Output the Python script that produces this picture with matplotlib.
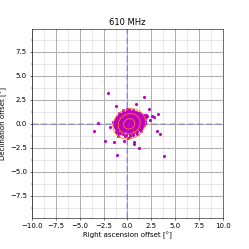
import matplotlib
matplotlib.use("Agg")
import matplotlib.pyplot as plt
from matplotlib.patches import Ellipse
from matplotlib.ticker import MultipleLocator

title = "610 MHz"

# outlying sources (degrees)
outlier_ra = [-2.02, 1.77, 0.87, -1.15, 2.26, -0.10, 3.16, 2.60, 2.75, 2.40,
              -3.07, -1.85, -3.48, 3.10, 3.37, -2.37, -1.40, -0.35, 0.68, 0.68,
              1.15, -1.10, 3.86, -1.00, 0.10, 1.95, 1.80, -1.55, 2.05, -0.95]
outlier_dec = [3.19, 2.77, 2.11, 1.87, 1.52, 1.60, 1.04, 0.78, 0.70, 0.45,
               0.14, -0.35, -0.70, -0.77, -1.05, -1.81, -1.87, -1.80, -1.84, -2.06,
               -2.50, -3.20, -3.30, -1.25, -1.50, 0.95, 0.60, 0.20, 0.85, -0.95]

# dense core of sources
core_ra = [-0.10, 0.32, 0.62,
           -0.62, -0.28, 0.02, 0.36, 0.71, 1.02,
           -0.92, -0.55, -0.18, 0.14, 0.52, 0.86, 1.16, 1.47,
           -1.06, -0.74, -0.41, -0.06, 0.31, 0.60, 0.96, 1.31, 1.62, 1.88,
           -1.22, -0.86, -0.52, -0.21, 0.12, 0.44, 0.77, 1.08, 1.42, 1.71,
           -1.31, -0.95, -0.61, -0.29, 0.01, 0.30, 0.62, 0.91, 1.24, 1.56, 1.84,
           -1.36, -1.01, -0.69, -0.36, -0.04, 0.26, 0.55, 0.86, 1.16, 1.49, 1.79,
           -1.41, -1.06, -0.76, -0.44, -0.11, 0.21, 0.51, 0.79, 1.12, 1.44, 1.69,
           -1.29, -0.99, -0.66, -0.34, -0.06, 0.24, 0.56, 0.89, 1.21, 1.51,
           -1.19, -0.84, -0.51, -0.19, 0.16, 0.46, 0.79, 1.11, 1.39,
           -0.99, -0.64, -0.31, 0.01, 0.34, 0.71, 1.01, 1.29,
           -0.79, -0.46, -0.09, 0.26, 0.61, 0.94,
           -0.51, -0.14, 0.21, 0.56,
           -0.21, 0.31,
           0.15, 0.55, 1.25, 1.55, 1.75, -0.45, -0.85, 0.95, 1.45, -1.15,
           0.12, 0.47, 0.83,
           -0.44, -0.11, 0.19, 0.53, 0.87, 1.21,
           -0.74, -0.39, -0.03, 0.33, 0.68, 1.01, 1.33, 1.61,
           -0.91, -0.58, -0.23, 0.14, 0.46, 0.79, 1.13, 1.46, 1.76,
           -1.04, -0.69, -0.37, -0.04, 0.29, 0.58, 0.93, 1.27, 1.58,
           -1.14, -0.78, -0.45, -0.13, 0.16, 0.46, 0.76, 1.04, 1.36, 1.67,
           -1.21, -0.86, -0.53, -0.21, 0.09, 0.39, 0.68, 0.99, 1.31, 1.61,
           -1.16, -0.82, -0.49, -0.19, 0.11, 0.41, 0.71, 1.04, 1.36,
           -1.07, -0.74, -0.39, -0.04, 0.29, 0.62, 0.94, 1.24,
           -0.89, -0.54, -0.19, 0.16, 0.51, 0.84, 1.14,
           -0.66, -0.31, 0.04, 0.39, 0.76,
           -0.36, 0.01, 0.41]
core_dec = [1.31, 1.27, 1.33,
            1.08, 1.12, 1.06, 1.13, 1.09, 1.04,
            0.91, 0.87, 0.93, 0.89, 0.92, 0.86, 0.94, 0.88,
            0.69, 0.73, 0.67, 0.71, 0.74, 0.68, 0.72, 0.66, 0.73, 0.69,
            0.51, 0.47, 0.53, 0.49, 0.52, 0.46, 0.54, 0.48, 0.51, 0.47,
            0.29, 0.33, 0.27, 0.31, 0.28, 0.34, 0.29, 0.32, 0.26, 0.31, 0.33,
            0.11, 0.07, 0.13, 0.09, 0.12, 0.06, 0.11, 0.08, 0.13, 0.09, 0.12,
            -0.09, -0.13, -0.07, -0.11, -0.08, -0.12, -0.09, -0.06, -0.13, -0.10, -0.08,
            -0.29, -0.33, -0.27, -0.31, -0.28, -0.32, -0.29, -0.26, -0.33, -0.30,
            -0.51, -0.47, -0.53, -0.49, -0.52, -0.48, -0.51, -0.46, -0.53,
            -0.69, -0.73, -0.67, -0.71, -0.72, -0.68, -0.71, -0.69,
            -0.91, -0.87, -0.92, -0.89, -0.93, -0.88,
            -1.09, -1.12, -1.08, -1.11,
            -1.29, -1.31,
            1.52, 1.45, 1.10, 0.95, 0.90, 1.40, 1.15, -1.05, -0.75, -0.80,
            1.41, 1.38, 1.22,
            1.21, 1.19, 1.23, 1.18, 1.20, 1.17,
            1.01, 0.98, 1.02, 0.99, 1.03, 0.97, 1.00, 0.96,
            0.81, 0.79, 0.82, 0.78, 0.83, 0.80, 0.77, 0.81, 0.79,
            0.61, 0.59, 0.62, 0.58, 0.63, 0.60, 0.57, 0.61, 0.59,
            0.41, 0.39, 0.42, 0.38, 0.43, 0.40, 0.37, 0.41, 0.39, 0.42,
            0.21, 0.19, 0.22, 0.18, 0.23, 0.20, 0.17, 0.21, 0.19, 0.22,
            0.01, -0.01, 0.02, -0.02, 0.03, 0.00, -0.03, 0.01, -0.01,
            -0.19, -0.21, -0.18, -0.22, -0.17, -0.20, -0.23, -0.19,
            -0.39, -0.41, -0.38, -0.42, -0.37, -0.40, -0.43,
            -0.59, -0.61, -0.58, -0.62, -0.57,
            -0.79, -0.81, -0.78]

# fitted error ellipses (centre, full widths, heights, tilt)
ell_centre = (0.18, 0.0)
ell_width = [1.2, 2.35, 3.5]
ell_height = [1.05, 2.05, 3.05]
ell_angle = 30

fig = plt.figure(figsize=(4.98, 4.98), dpi=50)
ax = fig.add_axes([0.127, 0.123, 0.770, 0.759])

ax.scatter(core_ra + outlier_ra, core_dec + outlier_dec, s=20, color="m",
           linewidths=0, zorder=3)
for w, h in zip(ell_width, ell_height):
    ax.add_patch(Ellipse(ell_centre, w, h, angle=ell_angle, fill=False,
                         edgecolor="C1", lw=1.2, zorder=4))
ax.axhline(0, color="blue", alpha=0.25, ls=(0, (4, 2)), lw=2.2, zorder=2)
ax.axvline(0, color="blue", alpha=0.25, ls=(0, (4, 2)), lw=2.2, zorder=2)

ax.set_xlim(-10, 10)
ax.set_ylim(-9.85, 9.85)
ax.xaxis.set_major_locator(MultipleLocator(2.5))
ax.yaxis.set_major_locator(MultipleLocator(2.5))
ax.xaxis.set_minor_locator(MultipleLocator(1.25))
ax.yaxis.set_minor_locator(MultipleLocator(1.25))
ax.grid(which="major", color="#b0b0b0", lw=1.5)
ax.grid(which="minor", color="#b0b0b0", lw=1.5, alpha=0.3)
ax.set_axisbelow(True)

ax.set_title(title)
ax.set_xlabel("Right ascension offset [°]")
ax.set_ylabel("Declination offset [°]")

fig.savefig("out.png", dpi=50)
